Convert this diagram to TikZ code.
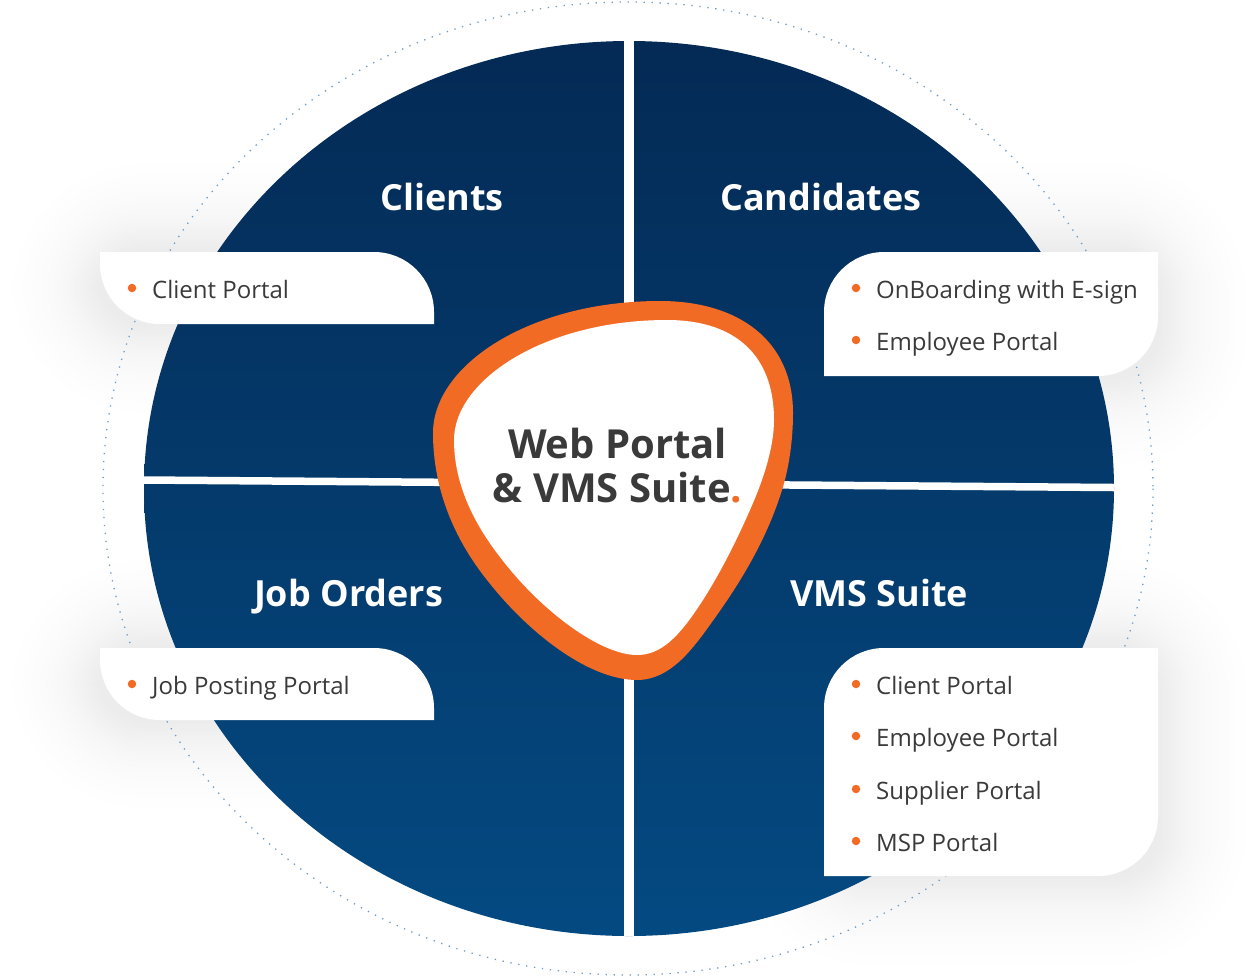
\documentclass[tikz,border=0pt]{standalone}
\usepackage{fontspec}
\setmainfont{Open Sans}
\definecolor{navytop}{HTML}{042A55}
\definecolor{navybot}{HTML}{044A82}
\definecolor{ringor}{HTML}{F26B24}
\definecolor{inktext}{HTML}{3A3A3A}
\definecolor{dotblue}{HTML}{6F9CC6}
\tikzset{
  x=1pt,y=-1pt,
  heading/.style={font=\fontsize{36}{36}\selectfont\bfseries,text=white,anchor=base},
  centretext/.style={font=\fontsize{40}{40}\selectfont\bfseries,text=inktext,anchor=base},
  itemtext/.style={font=\fontsize{24}{24}\selectfont,text=inktext,anchor=base west,inner sep=0pt},
  bullet/.style={circle,fill=ringor,inner sep=0pt,minimum size=8.5pt},
  card/.style={fill=white},
  softshadow/.style={fill=black,opacity=0.0026},
}
\begin{document}
\begin{tikzpicture}
\useasboundingbox (0,0) rectangle (1258,978);
\fill[white] (0,0) rectangle (1258,978);
% soft shadows of the cards
\foreach \g in {3,6,9,12,15,18,21,24,27,30,34,38,43,48,54,61,69,78,88}{
 \pgfmathsetmacro{\rr}{45+\g}
 \fill[softshadow,rounded corners=\rr] (824-\g,648-\g) rectangle (1158+\g,876+\g);
 \fill[softshadow,rounded corners=\rr] (824-\g,252-\g) rectangle (1158+\g,376+\g);
 \fill[softshadow,rounded corners=\rr] (100-\g,252-\g) rectangle (434+\g,324+\g);
 \fill[softshadow,rounded corners=\rr] (100-\g,648-\g) rectangle (434+\g,720+\g);
}
% dotted ring
\draw[dotblue,line width=1.3pt,dash pattern=on 1.3pt off 6.7pt] (628,488.5) ellipse[x radius=525,y radius=486.5];
% disc
\shade[top color=navytop,bottom color=navybot] (629,488.5) ellipse[x radius=485,y radius=447.5];
% dividers
\begin{scope}
\clip (629,488.5) ellipse[x radius=490,y radius=447.5];
\coordinate (vt) at (629,30);\coordinate (vb) at (629,945);
\draw[draw=white,line width=10pt] (vt) -- (vb);
\coordinate (hl) at (144,480);\coordinate (hr) at (1114,487.5);
\draw[draw=white,line width=7.5pt] (hl) -- (hr);
\end{scope}
% cards
\path[card] (100,252) -- (374,252) arc[start angle=90,end angle=0,x radius=60,y radius=-60] -- (434,324) -- (160,324) arc[start angle=270,end angle=180,x radius=60,y radius=-60] -- cycle;
\path[card] (100,648) -- (374,648) arc[start angle=90,end angle=0,x radius=60,y radius=-60] -- (434,720) -- (160,720) arc[start angle=270,end angle=180,x radius=60,y radius=-60] -- cycle;
\path[card] (824,376) -- (824,312) arc[start angle=180,end angle=90,x radius=60,y radius=-60] -- (1158,252) -- (1158,316) arc[start angle=0,end angle=-90,x radius=60,y radius=-60] -- cycle;
\path[card] (824,876) -- (824,708) arc[start angle=180,end angle=90,x radius=60,y radius=-60] -- (1158,648) -- (1158,816) arc[start angle=0,end angle=-90,x radius=60,y radius=-60] -- cycle;
% blob: outer edge
\fill[ringor] (660,301) .. controls (738,301) and (793,340) .. (793,413)
 .. controls (793,440) and (789,468) .. (782,490)
 .. controls (765,545) and (735,590) .. (712,622)
 .. controls (692,650) and (670,680) .. (637,680)
 .. controls (590,680) and (530,635) .. (487,580)
 .. controls (455,540) and (433,490) .. (433,433)
 .. controls (433,365) and (530,301) .. (660,301) -- cycle;
% blob: inner edge
\fill[white] (667,320) .. controls (735,320) and (774,355) .. (774,420)
 .. controls (774,445) and (765,475) .. (753,503)
 .. controls (735,545) and (712,590) .. (687,623)
 .. controls (670,645) and (655,655) .. (637,655)
 .. controls (600,655) and (540,610) .. (500,557)
 .. controls (475,525) and (454,485) .. (454,440)
 .. controls (454,380) and (545,320) .. (667,320) -- cycle;
% headings
\node[heading] (clients) at (442,210) {Clients};
\node[heading] (cand) at (821,210) {Candidates};
\node[heading] (jobs) at (348.5,606) {Job Orders};
\node[heading] (vms) at (879,606) {VMS Suite};
% centre
\node[centretext] (c1) at (617.5,458) {Web Portal};
\node[centretext] (c2) at (617.5,502) {\& VMS Suite\textcolor{ringor}{.}};
% items
\foreach \nm/\tx/\bx/\by in {
 a/Client Portal/132/298,
 b/OnBoarding with E-sign/856/298,
 c/Employee Portal/856/350,
 d/Job Posting Portal/132/694,
 e/Client Portal/856/694,
 f/Employee Portal/856/746,
 g/Supplier Portal/856/799,
 h/MSP Portal/856/851}{
  \node[bullet] (bul\nm) at (\bx,\by-10) {};
  \node[itemtext] (txt\nm) at (\bx+20,\by) {\tx};
}
\end{tikzpicture}
\end{document}
